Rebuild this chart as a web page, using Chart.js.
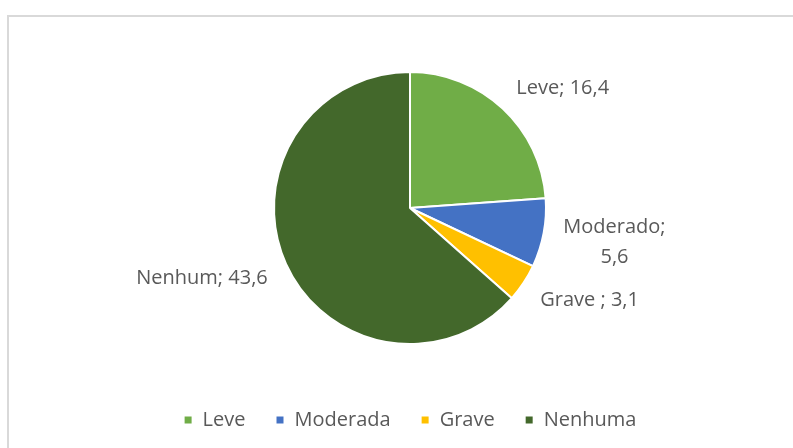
<!DOCTYPE html>
<html>
<head>
<meta charset="utf-8">
<script src="https://cdn.jsdelivr.net/npm/chart.js@4/dist/chart.umd.min.js"></script>
<style>
	body { margin: 0; background: #fff; }
	#frame { position: absolute; left: 7px; top: 15px; width: 900px; height: 600px; border: 2px solid #d9d9d9; }
	#wrap { position: absolute; left: 0; top: 0; width: 793px; height: 448px; }
</style>
</head>
<body>
<div id="frame"></div>
<div id="wrap"><canvas id="canPie"></canvas></div>
<script>
'use strict'

// データ
const legendLabels = ['Leve', 'Moderada', 'Grave', 'Nenhuma'];
const dataLabelNames = ['Leve', 'Moderado', 'Grave ', 'Nenhum'];
const dataLabelBreak = [false, true, false, false]; // Moderado は2行
const values = [16.4, 5.6, 3.1, 43.6];
const colors = ['#70AD47', '#4472C4', '#FFC000', '#43682B'];

const FONT = "'Open Sans', sans-serif";
const FONT_SIZE = 20;
const TEXT_COLOR = '#595959';

// ラベル描画（円の外側）
const outsideLabels = {
	id: 'outsideLabels',
	afterDatasetsDraw(chart) {
		const ctx = chart.ctx;
		const meta = chart.getDatasetMeta(0);
		ctx.save();
		ctx.font = FONT_SIZE + 'px ' + FONT;
		ctx.fillStyle = TEXT_COLOR;
		ctx.textBaseline = 'middle';
		meta.data.forEach((arc, i) => {
			const p = arc.getProps(['x', 'y', 'startAngle', 'endAngle', 'outerRadius'], true);
			const mid = (p.startAngle + p.endAngle) / 2;
			const r = p.outerRadius + 20;
			const px = p.x + Math.cos(mid) * r;
			const py = p.y + Math.sin(mid) * r + (Math.sin(mid) > 0 ? 6 : -6);
			const valText = values[i].toFixed(1).replace('.', ',');
			const lines = dataLabelBreak[i]
				? [dataLabelNames[i] + ';', valText]
				: [dataLabelNames[i] + '; ' + valText];
			const lh = 30;
			const blockW = Math.max(...lines.map(t => ctx.measureText(t).width));
			const left = Math.cos(mid) >= 0 ? px : px - blockW;
			ctx.textAlign = 'center';
			lines.forEach((t, k) => {
				const y = py + (k - (lines.length - 1) / 2) * lh;
				ctx.fillText(t, left + blockW / 2, y);
			});
		});
		ctx.restore();
	}
};

const ctxPie = document.getElementById('canPie').getContext('2d');
const myChart = new Chart(ctxPie, {
	type: 'pie',
	data: {
		labels: legendLabels,
		datasets: [{
			data: values,
			backgroundColor: colors,
			borderColor: '#ffffff',
			borderWidth: 2,
			hoverOffset: 0,
			radius: 136
		}]
	},
	options: {
		responsive: true,
		maintainAspectRatio: false,
		animation: false,
		layout: { padding: { top: 36, bottom: 8, left: 27, right: 0 } },
		plugins: {
			tooltip: { enabled: false },
			legend: {
				display: true,
				position: 'bottom',
				labels: {
					boxWidth: 9,
					boxHeight: 9,
					padding: 30,
					color: TEXT_COLOR,
					font: { family: FONT, size: FONT_SIZE }
				}
			}
		}
	},
	plugins: [outsideLabels]
});
</script>
</body>
</html>
